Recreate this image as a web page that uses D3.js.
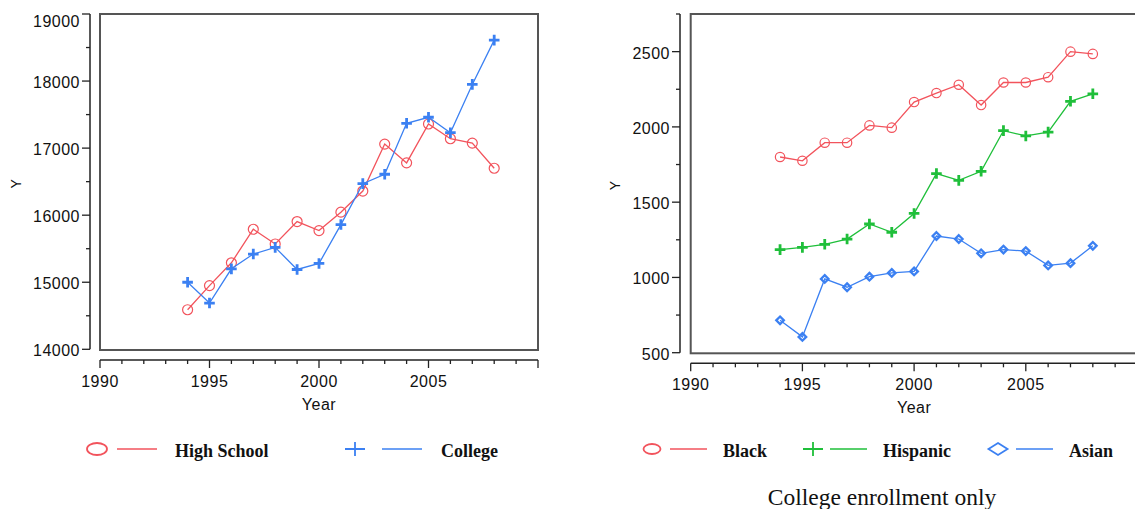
<!DOCTYPE html>
<html>
<head>
<meta charset="utf-8">
<script src="https://cdn.jsdelivr.net/npm/d3@7"></script>
<style>
  body { margin: 0; background: #fff; }
  svg { display: block; }
  .tick-label { font-family: "Liberation Sans", Arial, sans-serif; font-size: 16px; fill: #111; letter-spacing: 0.5px; }
  .axis-title { font-family: "Liberation Sans", Arial, sans-serif; font-size: 16px; fill: #111; letter-spacing: 0.5px; }
  .legend-text { font-family: "Liberation Serif", "Times New Roman", serif; font-size: 18px; font-weight: bold; fill: #111; }
  .note { font-family: "Liberation Serif", "Times New Roman", serif; font-size: 23.5px; fill: #111; }
</style>
</head>
<body>
<div id="chart"></div>
<script>
// ---- data ----
const years = [1994, 1995, 1996, 1997, 1998, 1999, 2000, 2001, 2002, 2003, 2004, 2005, 2006, 2007, 2008];

// left panel: all enrollment
const highSchool = [14590, 14950, 15290, 15790, 15570, 15905, 15770, 16045, 16360, 17060, 16780, 17360, 17140, 17075, 16700];
const college    = [15000, 14690, 15200, 15420, 15520, 15190, 15280, 15860, 16470, 16610, 17370, 17460, 17230, 17950, 18610];

// right panel: college enrollment only
const black    = [1800, 1775, 1895, 1895, 2010, 1995, 2165, 2225, 2280, 2145, 2295, 2295, 2330, 2500, 2485];
const hispanic = [1185, 1200, 1220, 1255, 1355, 1300, 1425, 1690, 1645, 1705, 1975, 1940, 1965, 2170, 2220];
const asian    = [715, 605, 990, 935, 1005, 1030, 1040, 1275, 1255, 1160, 1185, 1175, 1080, 1095, 1210];

const xTicks = [1990, 1995, 2000, 2005];
const leftYTicks = [14000, 15000, 16000, 17000, 18000, 19000];
const rightYTicks = [500, 1000, 1500, 2000, 2500];

const RED = "#f2535c", BLUE = "#3b80f2", GREEN = "#1fbf3a";

const width = 1135, height = 509;

const svg = d3.select("#chart").append("svg")
    .attr("width", width)
    .attr("height", height);

function markerPath(type, s) {
    if (type === "plus") return `M${-s},0H${s}M0,${-s}V${s}`;
    if (type === "diamond") return `M0,${-s}L${s},0L0,${s}L${-s},0Z`;
    return null;
}

function drawPanel(cfg) {
    const g = svg.append("g");

    const x = d3.scaleLinear().domain([1990, 2010]).range([cfg.left, cfg.right]);
    const y = d3.scaleLinear().domain(cfg.yDomain).range([cfg.bottom, cfg.top]);

    // Frame around plot area
    g.append("rect")
        .attr("x", cfg.left)
        .attr("y", cfg.top)
        .attr("width", cfg.right - cfg.left)
        .attr("height", cfg.frameBottom - cfg.top)
        .attr("fill", "none")
        .attr("stroke", "#555")
        .attr("stroke-width", 2);

    // Y axis (offset to the left of the frame)
    const yAxis = g.append("g");
    yAxis.append("line")
        .attr("x1", cfg.yAxisX).attr("x2", cfg.yAxisX)
        .attr("y1", cfg.top).attr("y2", cfg.bottom)
        .attr("stroke", "#222").attr("stroke-width", 1.5);
    const yMinor = d3.range(cfg.yDomain[0], cfg.yDomain[1] + 1, cfg.yMinorStep);
    yAxis.selectAll(".ytick")
        .data(yMinor)
        .enter()
        .append("line")
            .attr("x1", d => cfg.yAxisX - (cfg.yTicks.includes(d) ? 8 : 4))
            .attr("x2", cfg.yAxisX)
            .attr("y1", d => y(d)).attr("y2", d => y(d))
            .attr("stroke", "#222").attr("stroke-width", 1.3);
    yAxis.selectAll(".ylabel")
        .data(cfg.yTicks)
        .enter()
        .append("text")
            .classed("tick-label", true)
            .attr("x", cfg.yAxisX - 10)
            .attr("y", d => Math.max(y(d) + 1.5, cfg.top + 7))
            .attr("text-anchor", "end")
            .attr("dominant-baseline", "central")
            .text(d => d);

    g.append("text")
        .attr("class", "axis-title")
        .style("font-size", "14px")
        .attr("transform", `translate(${cfg.yTitleX},${(cfg.top + cfg.bottom) / 2 + 2}) rotate(-90)`)
        .attr("text-anchor", "middle")
        .attr("dominant-baseline", "central")
        .text("Y");

    // X axis (offset below the frame)
    const xAxis = g.append("g");
    xAxis.append("line")
        .attr("x1", cfg.left).attr("x2", cfg.right)
        .attr("y1", cfg.xAxisY).attr("y2", cfg.xAxisY)
        .attr("stroke", "#222").attr("stroke-width", 1.5);
    xAxis.selectAll(".xtick")
        .data(d3.range(1990, 2011))
        .enter()
        .append("line")
            .attr("x1", d => x(d)).attr("x2", d => x(d))
            .attr("y1", cfg.xAxisY)
            .attr("y2", d => cfg.xAxisY + (d % 5 === 0 ? 8 : 4))
            .attr("stroke", "#222").attr("stroke-width", 1.3);
    xAxis.selectAll(".xlabel")
        .data(xTicks)
        .enter()
        .append("text")
            .classed("tick-label", true)
            .attr("x", d => x(d))
            .attr("y", cfg.xAxisY + 27)
            .attr("text-anchor", "middle")
            .text(d => d);
    g.append("text")
        .attr("class", "axis-title")
        .attr("x", (cfg.left + cfg.right) / 2)
        .attr("y", cfg.xAxisY + 50)
        .attr("text-anchor", "middle")
        .text("Year");

    // Series
    const line = d3.line().x((d, i) => x(years[i])).y(d => y(d));
    cfg.series.forEach(s => {
        g.append("path")
            .datum(s.values)
            .attr("d", line)
            .attr("fill", "none")
            .attr("stroke", s.color)
            .attr("stroke-width", 1.3);

        const pts = g.append("g")
            .selectAll("g")
            .data(s.values)
            .enter()
            .append("g")
                .attr("transform", (d, i) => `translate(${x(years[i])},${y(d)})`);
        if (s.marker === "circle") {
            pts.append("circle")
                .attr("r", cfg.circleR)
                .attr("fill", "none")
                .attr("stroke", s.color)
                .attr("stroke-width", 1.2);
        } else if (s.marker === "plus") {
            pts.append("path")
                .attr("d", markerPath("plus", 5.3))
                .attr("stroke", s.color)
                .attr("stroke-width", 2.8);
        } else {
            pts.append("path")
                .attr("d", markerPath("diamond", 3.8))
                .attr("fill", "none")
                .attr("stroke", s.color)
                .attr("stroke-width", 2.3);
        }
    });

    // Legend
    const lg = g.append("g");
    cfg.series.forEach((s, i) => {
        const item = cfg.legend[i];
        const ly = 449;
        if (s.marker === "circle") {
            lg.append("ellipse")
                .attr("cx", item.sym).attr("cy", ly)
                .attr("rx", cfg.legendSym.rx).attr("ry", cfg.legendSym.ry)
                .attr("fill", "none").attr("stroke", s.color).attr("stroke-width", 1.8);
        } else if (s.marker === "plus") {
            lg.append("path")
                .attr("d", `M${item.sym - 10},${ly}H${item.sym + 10}M${item.sym},${ly - 7}V${ly + 7}`)
                .attr("stroke", s.color).attr("stroke-width", 1.8);
        } else {
            lg.append("path")
                .attr("d", `M${item.sym},${ly - 6}L${item.sym + 9.5},${ly}L${item.sym},${ly + 6}L${item.sym - 9.5},${ly}Z`)
                .attr("fill", "none").attr("stroke", s.color).attr("stroke-width", 1.8);
        }
        lg.append("line")
            .attr("x1", item.line[0]).attr("x2", item.line[1])
            .attr("y1", ly).attr("y2", ly)
            .attr("stroke", s.color).attr("stroke-width", 1.5);
        lg.append("text")
            .classed("legend-text", true)
            .attr("x", item.text)
            .attr("y", 457)
            .text(s.name);
    });
}

drawPanel({
    left: 100, right: 538, top: 14, bottom: 349.3, frameBottom: 350,
    yAxisX: 90, xAxisY: 360, yTitleX: 16,
    yDomain: [14000, 19000], yTicks: leftYTicks, yMinorStep: 500,
    circleR: 5,
    legendSym: { rx: 10, ry: 6 },
    series: [
        { name: "High School", values: highSchool, color: RED, marker: "circle" },
        { name: "College", values: college, color: BLUE, marker: "plus" }
    ],
    legend: [
        { sym: 97, line: [117, 157], text: 175 },
        { sym: 355, line: [382, 422], text: 441 }
    ]
});

drawPanel({
    left: 690.7, right: 1137.5, top: 14, bottom: 352.7, frameBottom: 353.3,
    yAxisX: 680, xAxisY: 363.3, yTitleX: 615,
    yDomain: [500, 2750], yTicks: rightYTicks, yMinorStep: 250,
    circleR: 4.7,
    legendSym: { rx: 8.5, ry: 5 },
    series: [
        { name: "Black", values: black, color: RED, marker: "circle" },
        { name: "Hispanic", values: hispanic, color: GREEN, marker: "plus" },
        { name: "Asian", values: asian, color: BLUE, marker: "diamond" }
    ],
    legend: [
        { sym: 652, line: [670, 707], text: 723 },
        { sym: 813, line: [830, 867], text: 883 },
        { sym: 998, line: [1016, 1053], text: 1069 }
    ]
});

svg.append("text")
    .attr("class", "note")
    .attr("x", 882)
    .attr("y", 505)
    .attr("text-anchor", "middle")
    .text("College enrollment only");
</script>
</body>
</html>
